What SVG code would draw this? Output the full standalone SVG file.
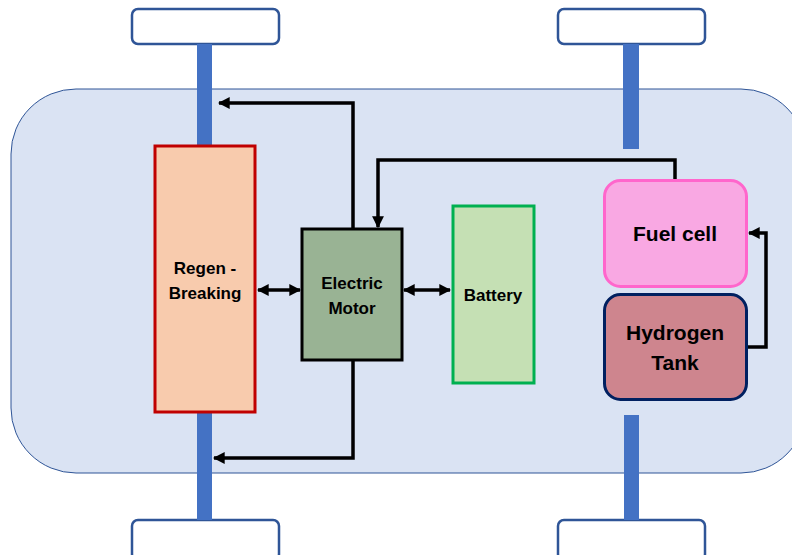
<svg xmlns="http://www.w3.org/2000/svg" width="792" height="555" viewBox="0 0 792 555">
<defs>
<marker id="ah" viewBox="0 0 10 10" refX="9" refY="5" markerWidth="3.4" markerHeight="3.4" orient="auto-start-reverse" markerUnits="strokeWidth">
<path d="M0,0 L10,5 L0,10 z" fill="#000"/>
</marker>
<style>
.wheel{fill:#fff;stroke:#2F5597;stroke-width:2.5}
.axle{fill:#4472C4}
.conn{fill:none;stroke:#000;stroke-width:3.5;stroke-linejoin:miter}
.lbl{font-family:"Liberation Sans",Arial,sans-serif;font-weight:bold;fill:#000;text-anchor:middle}
</style>
</defs>
<rect id="body" x="11" y="89" width="795" height="384" rx="65" ry="65" fill="#DAE3F3" stroke="#2F5597" stroke-width="1"/>
<g id="wheels">
<rect class="wheel" x="132" y="9" width="147" height="35" rx="6"/>
<rect class="wheel" x="558" y="9" width="147" height="35" rx="6"/>
<rect class="wheel" x="132" y="520" width="147" height="40" rx="6"/>
<rect class="wheel" x="558" y="520" width="147" height="40" rx="6"/>
</g>
<g id="axles">
<rect class="axle" x="197" y="44" width="15" height="102"/>
<rect class="axle" x="623" y="44" width="16" height="105"/>
<rect class="axle" x="197" y="412" width="15" height="108"/>
<rect class="axle" x="624" y="415" width="15" height="105"/>
</g>
<g id="connectors">
<path class="conn" d="M353,229 V103 H219" marker-end="url(#ah)"/>
<path class="conn" d="M675,181 V160 H378 V227" marker-end="url(#ah)"/>
<path class="conn" d="M353,360 V458 H214" marker-end="url(#ah)"/>
<path class="conn" d="M258,290 H300" marker-start="url(#ah)" marker-end="url(#ah)"/>
<path class="conn" d="M404,290 H450" marker-start="url(#ah)" marker-end="url(#ah)"/>
<path class="conn" d="M747,347 H766 V233 H749" marker-end="url(#ah)"/>
</g>
<g id="regen">
<rect x="155" y="146" width="100" height="266" fill="#F8CBAD" stroke="#C00000" stroke-width="3"/>
<text class="lbl" x="205" y="274" font-size="17">Regen -</text>
<text class="lbl" x="205" y="299" font-size="17">Breaking</text>
</g>
<g id="motor">
<rect x="302" y="229" width="100" height="131" fill="#99B394" stroke="#000" stroke-width="3"/>
<text class="lbl" x="352" y="289" font-size="17">Electric</text>
<text class="lbl" x="352" y="314" font-size="17">Motor</text>
</g>
<g id="battery">
<rect x="453" y="206" width="81" height="177" fill="#C5E0B4" stroke="#00B050" stroke-width="3"/>
<text class="lbl" x="493" y="301" font-size="17">Battery</text>
</g>
<g id="fuelcell">
<rect x="604.5" y="180.5" width="142" height="106" rx="16" fill="#F9A8E3" stroke="#FF66CC" stroke-width="3"/>
<text class="lbl" x="675" y="241" font-size="21">Fuel cell</text>
</g>
<g id="hydrogen">
<rect x="604.5" y="294.5" width="142" height="105" rx="16" fill="#CE858E" stroke="#002060" stroke-width="3"/>
<text class="lbl" x="675" y="340" font-size="21">Hydrogen</text>
<text class="lbl" x="675" y="370" font-size="21">Tank</text>
</g>
</svg>
